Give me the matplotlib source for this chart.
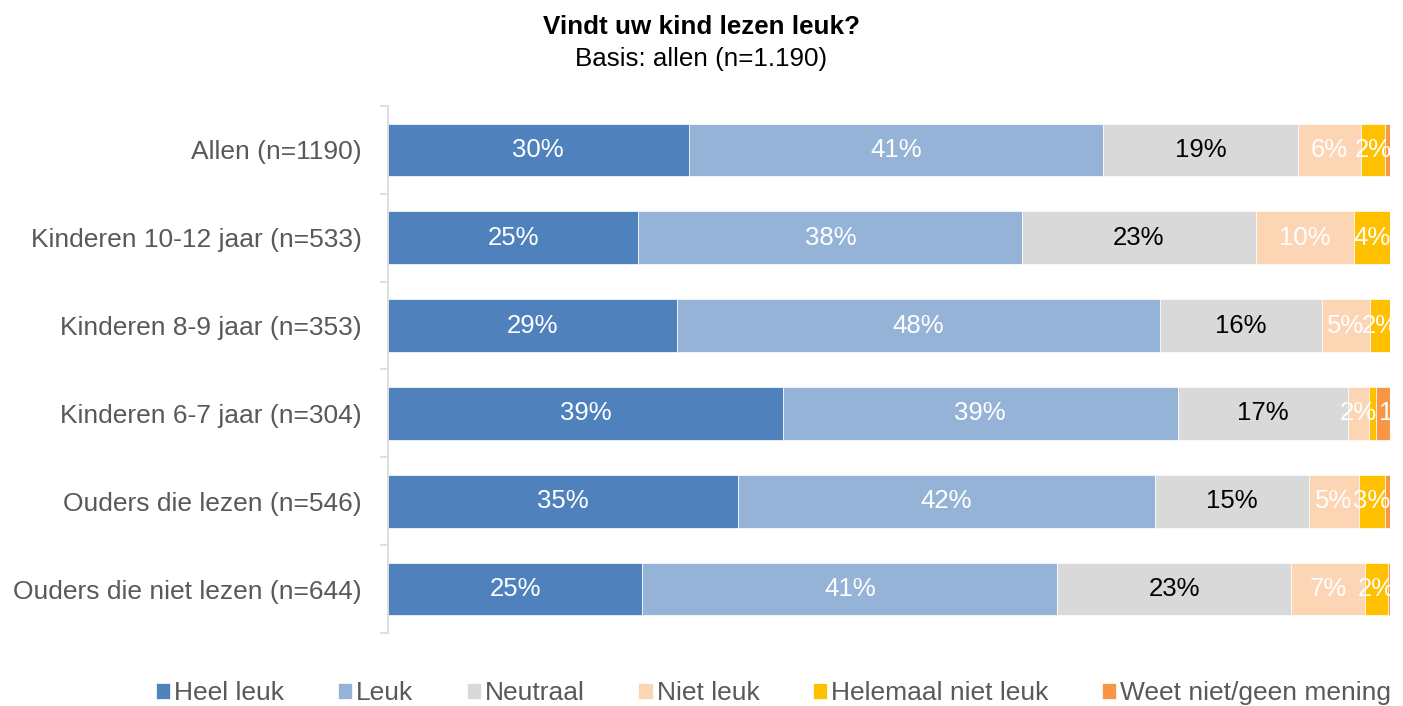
import matplotlib.pyplot as plt
import numpy as np

plt.rcParams['font.family'] = ['Liberation Sans', 'DejaVu Sans']

categories = ['Allen (n=1190)', 'Kinderen 10-12 jaar (n=533)', 'Kinderen 8-9 jaar (n=353)',
              'Kinderen 6-7 jaar (n=304)', 'Ouders die lezen (n=546)', 'Ouders die niet lezen (n=644)']
series = ['Heel leuk', 'Leuk', 'Neutraal', 'Niet leuk', 'Helemaal niet leuk', 'Weet niet/geen mening']

heel_leuk = [30.0, 25.0, 28.8, 39.4, 34.9, 25.4]
leuk = [41.4, 38.3, 48.3, 39.4, 41.7, 41.4]
neutraal = [19.4, 23.3, 16.1, 17.0, 15.3, 23.3]
niet_leuk = [6.3, 9.8, 4.8, 2.1, 5.0, 7.4]
helemaal_niet = [2.4, 3.6, 2.0, 0.7, 2.6, 2.3]
weet_niet = [0.5, 0.0, 0.0, 1.4, 0.5, 0.2]

colors = ['#4F81BD', '#95B3D7', '#D9D9D9', '#FCD5B5', '#FFC000', '#F79646']
label_colors = ['white', 'white', 'black', 'white', 'white', 'white']

data = [heel_leuk, leuk, neutraal, niet_leuk, helemaal_niet, weet_niet]

fig = plt.figure(figsize=(14.03, 7.06), dpi=100)
ax = fig.add_axes([0.2765, 0.1034, 0.7142, 0.7465])

y = np.arange(len(categories))
left = np.zeros(len(categories))
for i, (vals, name, col, lc) in enumerate(zip(data, series, colors, label_colors)):
    vals = np.array(vals)
    ax.barh(y, vals, left=left, height=0.6, color=col, edgecolor='white',
            linewidth=0.5, label=name)
    for yi, v, l in zip(y, vals, left):
        if v >= 1:
            if i == len(data) - 1:
                # last narrow segment: label starts inside it and is clipped
                ax.text(l + 0.3, yi, f'{round(v)}%', ha='left', va='center',
                        fontsize=18.5, color=lc, clip_on=True)
            else:
                ax.text(l + v / 2, yi, f'{round(v)}%', ha='center', va='center',
                        fontsize=18.5, color=lc, clip_on=True)
    left += vals

ax.set_xlim(0, 100)
ax.set_ylim(5.5, -0.5)
ax.set_yticks(y)
ax.set_yticklabels(categories, fontsize=19, color='#595959')
ax.tick_params(axis='y', which='major', length=0, pad=19)
ax.set_yticks(np.arange(-0.5, 6, 1), minor=True)
ax.tick_params(axis='y', which='minor', length=6, color='#D9D9D9', width=1.2)
ax.set_xticks([])
for s in ['top', 'right', 'bottom']:
    ax.spines[s].set_visible(False)
ax.spines['left'].set_color('#D9D9D9')
ax.spines['left'].set_linewidth(1.2)

fig.text(0.5, 0.962, 'Vindt uw kind lezen leuk?', ha='center', va='center',
         fontsize=18.7, fontweight='bold')
fig.text(0.5, 0.917, 'Basis: allen (n=1.190)', ha='center', va='center', fontsize=18.7)

leg = fig.legend(loc='center left', bbox_to_anchor=(0.111, 0.018), ncol=6, frameon=False,
                 fontsize=19, handlelength=0.55, handleheight=0.55, handletextpad=0.15,
                 columnspacing=2.02, borderaxespad=0, borderpad=0)
for t in leg.get_texts():
    t.set_color('#595959')

fig.savefig('out.png', dpi=100)
